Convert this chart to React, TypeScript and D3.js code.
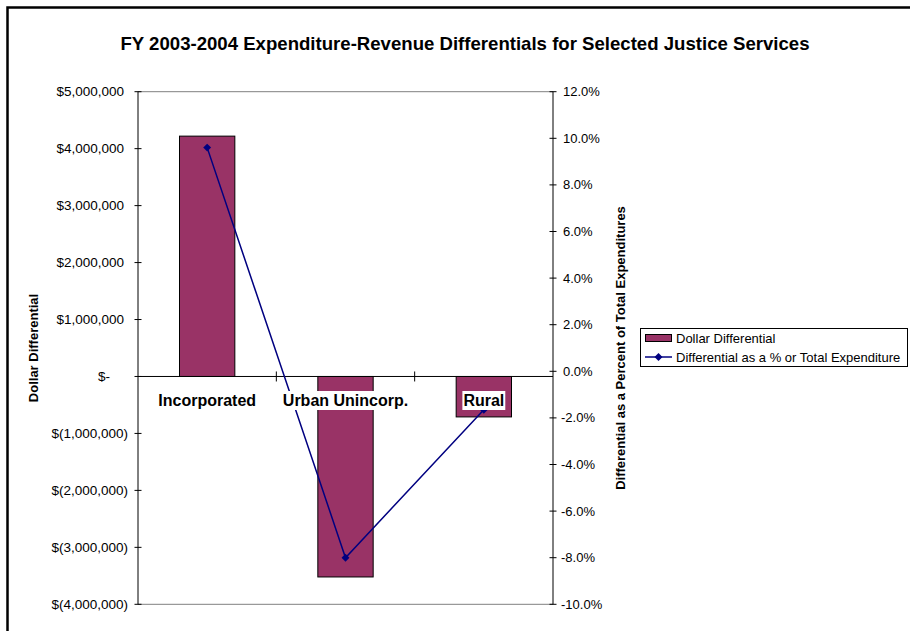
import React, { useEffect, useRef } from 'react';
import * as d3 from 'd3';

const categories = ['Incorporated', 'Urban Unincorp.', 'Rural'];
const dollarDifferential = [4220000, -3520000, -710000];
const percentDifferential = [0.096, -0.080, -0.0165];
const dollarTicks = [5000000, 4000000, 3000000, 2000000, 1000000, 0, -1000000, -2000000, -3000000, -4000000];
const percentTicks = [0.12, 0.10, 0.08, 0.06, 0.04, 0.02, 0, -0.02, -0.04, -0.06, -0.08, -0.10];

const FONT = '"Liberation Sans", Arial, sans-serif';
const BAR_COLOR = '#993366';
const LINE_COLOR = '#000080';

function formatDollar(v: number) {
  if (v === 0) return '$-';
  const s = d3.format(',')(Math.abs(v));
  return v < 0 ? `$(${s})` : `$${s}`;
}

export default function App() {
  const svgRef = useRef<SVGSVGElement>(null);

  useEffect(() => {
    document.body.style.margin = '0';
    const svg = d3.select(svgRef.current);
    svg.selectAll('*').remove();

    const width = 910;
    const height = 631;
    const left = 138;
    const right = 553;
    const top = 91.7;
    const bottom = 604.3;

    svg.attr('width', width).attr('height', height);

    // white background + outer chart border (extends past the window)
    svg.append('rect').attr('width', width).attr('height', height).attr('fill', 'white');
    svg.append('rect')
      .attr('x', 7.5).attr('y', 7.5)
      .attr('width', 1000).attr('height', 1000)
      .attr('fill', 'none').attr('stroke', 'black').attr('stroke-width', 2.5);

    // title
    svg.append('text')
      .attr('x', 465).attr('y', 49.5)
      .attr('text-anchor', 'middle')
      .style('font-family', FONT)
      .style('font-size', '18.6px')
      .style('font-weight', 'bold')
      .text('FY 2003-2004 Expenditure-Revenue Differentials for Selected Justice Services');

    const x = d3.scaleBand<string>()
      .domain(categories)
      .range([left, right])
      .paddingInner(0.6)
      .paddingOuter(0.3);

    const yLeft = d3.scaleLinear().domain([-4000000, 5000000]).range([bottom, top]);
    const yRight = d3.scaleLinear().domain([-0.10, 0.12]).range([bottom, top]);

    // plot area top/bottom border
    [top, bottom].forEach(yy => {
      svg.append('line')
        .attr('x1', left).attr('x2', right)
        .attr('y1', yy).attr('y2', yy)
        .attr('stroke', '#808080').attr('stroke-width', 1);
    });

    // bars
    svg.append('g')
      .selectAll('rect')
      .data(categories)
      .enter()
      .append('rect')
      .attr('x', d => x(d)!)
      .attr('width', x.bandwidth())
      .attr('y', (d, i) => Math.min(yLeft(dollarDifferential[i]), yLeft(0)))
      .attr('height', (d, i) => Math.abs(yLeft(dollarDifferential[i]) - yLeft(0)))
      .attr('fill', BAR_COLOR)
      .attr('stroke', 'black')
      .attr('stroke-width', 1);

    // left axis
    svg.append('line')
      .attr('x1', left).attr('x2', left).attr('y1', top).attr('y2', bottom)
      .attr('stroke', 'black');
    const lt = svg.append('g');
    dollarTicks.forEach(v => {
      const yy = yLeft(v);
      lt.append('line')
        .attr('x1', left - 3.5).attr('x2', left + 3.5)
        .attr('y1', yy).attr('y2', yy)
        .attr('stroke', 'black');
      lt.append('text')
        .attr('x', v === 0 ? 110 : v < 0 ? 128 : 124)
        .attr('y', yy)
        .attr('dy', '0.35em')
        .attr('text-anchor', 'end')
        .style('font-family', FONT)
        .style('font-size', '13.5px')
        .text(formatDollar(v));
    });

    // right axis
    svg.append('line')
      .attr('x1', right).attr('x2', right).attr('y1', top).attr('y2', bottom)
      .attr('stroke', 'black');
    const rt = svg.append('g');
    percentTicks.forEach(v => {
      const yy = yRight(v);
      rt.append('line')
        .attr('x1', right - 3.5).attr('x2', right + 3.5)
        .attr('y1', yy).attr('y2', yy)
        .attr('stroke', 'black');
      rt.append('text')
        .attr('x', v < 0 ? 561 : 563)
        .attr('y', yy)
        .attr('dy', '0.35em')
        .attr('text-anchor', 'start')
        .style('font-family', FONT)
        .style('font-size', '13px')
        .text(d3.format('.1%')(v).replace('−', '-'));
    });

    // category axis at zero
    const y0 = yLeft(0);
    svg.append('line')
      .attr('x1', left).attr('x2', right).attr('y1', y0).attr('y2', y0)
      .attr('stroke', 'black');
    categories.slice(1).forEach(c => {
      const xx = x(c)! - (x.step() * x.paddingInner()) / 2;
      svg.append('line')
        .attr('x1', xx).attr('x2', xx).attr('y1', y0 - 5).attr('y2', y0 + 5)
        .attr('stroke', 'black');
    });

    // line series
    const pts: [number, number][] = categories.map((c, i) => [
      x(c)! + x.bandwidth() / 2,
      yRight(percentDifferential[i]),
    ]);
    svg.append('path')
      .attr('d', d3.line()(pts) || '')
      .attr('fill', 'none')
      .attr('stroke', LINE_COLOR)
      .attr('stroke-width', 1.5);
    const diamond = d3.symbol().type(d3.symbolDiamond2).size(40);
    svg.append('g')
      .selectAll('path')
      .data(pts)
      .enter()
      .append('path')
      .attr('d', diamond() || '')
      .attr('transform', d => `translate(${d[0]},${d[1]})`)
      .attr('fill', LINE_COLOR);

    // category labels with white background
    const labels = svg.append('g');
    categories.forEach(c => {
      const cx = x(c)! + x.bandwidth() / 2;
      const g = labels.append('g');
      const bg = g.append('rect').attr('fill', 'white');
      const t = g.append('text')
        .attr('x', cx)
        .attr('y', 406)
        .attr('text-anchor', 'middle')
        .style('font-family', FONT)
        .style('font-size', '16px')
        .style('font-weight', 'bold')
        .text(c);
      const bb = (t.node() as SVGTextElement).getBBox();
      bg.attr('x', bb.x - 1).attr('y', 391).attr('width', bb.width + 2).attr('height', 19);
    });

    // axis titles
    svg.append('text')
      .attr('transform', `translate(38, ${(top + bottom) / 2}) rotate(-90)`)
      .attr('text-anchor', 'middle')
      .style('font-family', FONT)
      .style('font-size', '13px')
      .style('font-weight', 'bold')
      .text('Dollar Differential');
    svg.append('text')
      .attr('transform', `translate(625, ${(top + bottom) / 2}) rotate(-90)`)
      .attr('text-anchor', 'middle')
      .style('font-family', FONT)
      .style('font-size', '13px')
      .style('font-weight', 'bold')
      .text('Differential as a Percent of Total Expenditures');

    // legend
    const lg = svg.append('g');
    lg.append('rect')
      .attr('x', 640.5).attr('y', 328.5).attr('width', 267).attr('height', 38)
      .attr('fill', 'white').attr('stroke', 'black');
    lg.append('rect')
      .attr('x', 645.5).attr('y', 334.5).attr('width', 26).attr('height', 7)
      .attr('fill', BAR_COLOR).attr('stroke', 'black');
    lg.append('text')
      .attr('x', 676).attr('y', 342.5)
      .style('font-family', FONT).style('font-size', '13px')
      .text('Dollar Differential');
    lg.append('line')
      .attr('x1', 645).attr('x2', 672).attr('y1', 357).attr('y2', 357)
      .attr('stroke', LINE_COLOR).attr('stroke-width', 1.5);
    lg.append('path')
      .attr('d', diamond() || '')
      .attr('transform', 'translate(658.5,357)')
      .attr('fill', LINE_COLOR);
    lg.append('text')
      .attr('x', 676).attr('y', 361.5)
      .style('font-family', FONT).style('font-size', '13px')
      .text('Differential as a % or Total Expenditure');
  }, []);

  return <svg ref={svgRef} style={{ display: 'block' }}></svg>;
}
